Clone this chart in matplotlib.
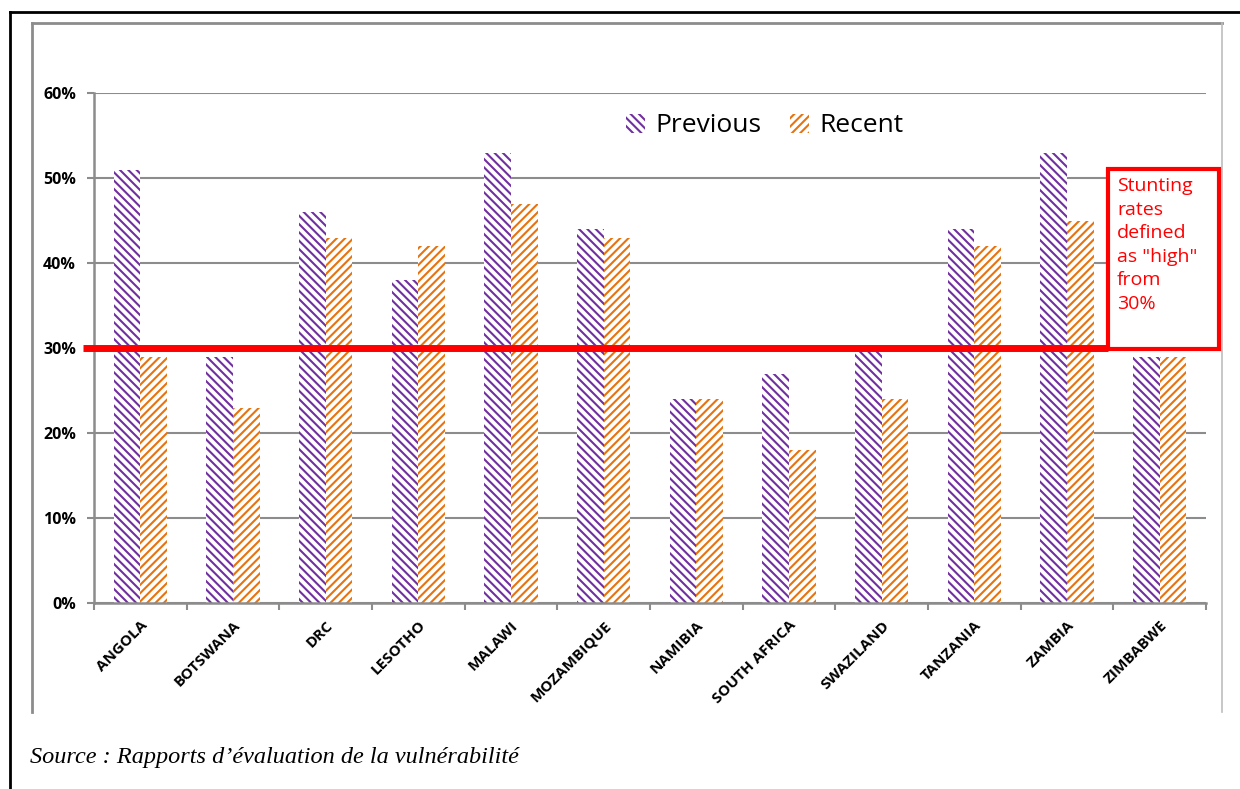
import numpy as np
import matplotlib
matplotlib.use("Agg")
import matplotlib.pyplot as plt
from matplotlib.patches import Rectangle
from matplotlib.lines import Line2D

countries = ["ANGOLA", "BOTSWANA", "DRC", "LESOTHO", "MALAWI", "MOZAMBIQUE",
             "NAMIBIA", "SOUTH AFRICA", "SWAZILAND", "TANZANIA", "ZAMBIA", "ZIMBABWE"]
previous = [0.51, 0.29, 0.46, 0.38, 0.53, 0.44, 0.24, 0.27, 0.30, 0.44, 0.53, 0.29]
recent = [0.29, 0.23, 0.43, 0.42, 0.47, 0.43, 0.24, 0.18, 0.24, 0.42, 0.45, 0.29]
threshold = 0.30
yticks = [0.0, 0.1, 0.2, 0.3, 0.4, 0.5, 0.6]

purple = "#7030A0"
orange = "#E8730E"
grid_gray = "#8C8C8C"

plt.rcParams["font.family"] = ["Open Sans", "DejaVu Sans"]
plt.rcParams["hatch.linewidth"] = 1.5

W, H = 1240, 789
fig = plt.figure(figsize=(W / 100, H / 100), dpi=100)

def fx(px):
    return px / W

def fy(py):
    return 1 - py / H

ax = fig.add_axes([fx(94), fy(603), fx(1206) - fx(94), fy(93) - fy(603)])

x = np.arange(len(countries))
bw = 0.288
ax.bar(x - bw / 2, previous, bw, facecolor="white", edgecolor=purple,
       hatch="\\\\\\\\", linewidth=0, label="Previous", zorder=2)
ax.bar(x + bw / 2, recent, bw, facecolor="white", edgecolor=orange,
       hatch="////", linewidth=0, label="Recent", zorder=2)

ax.set_xlim(-0.5, len(countries) - 0.5)
ax.set_ylim(0, 0.6)
ax.set_yticks(yticks)
ax.set_yticklabels([f"{int(round(v * 100))}%" for v in yticks],
                   fontsize=11.5, fontweight="bold")
ax.yaxis.grid(True, color=grid_gray, linewidth=1.5, zorder=0)
ax.set_axisbelow(True)

ax.set_xticks(x)
ax.set_xticklabels(countries, rotation=45, ha="right", rotation_mode="anchor",
                   fontsize=11, fontweight="bold")
ax.tick_params(axis="x", which="major", length=0, pad=11)
ax.set_xticks(np.arange(len(countries) + 1) - 0.5, minor=True)
ax.tick_params(axis="x", which="minor", length=5, width=1.5, color=grid_gray)
ax.tick_params(axis="y", length=5, width=1.5, color=grid_gray, pad=8)

for s in ["top", "right"]:
    ax.spines[s].set_visible(False)
for s in ["left", "bottom"]:
    ax.spines[s].set_color(grid_gray)
    ax.spines[s].set_linewidth(1.8)

# red threshold line and annotation box
trans = ax.get_yaxis_transform()
ax.plot([(83 - 94) / 1112, (1108 - 94) / 1112], [threshold, threshold],
        color="red", linewidth=5, transform=trans, clip_on=False, zorder=4,
        solid_capstyle="butt")

box = Rectangle((fx(1108), fy(349)), fx(1219) - fx(1108), fy(169) - fy(349),
                transform=fig.transFigure, facecolor="white", edgecolor="red",
                linewidth=3, zorder=5)
fig.patches.append(box)
fig.text(fx(1117), fy(177), 'Stunting\nrates\ndefined\nas "high"\nfrom\n30%',
         color="red", fontsize=14, va="top", ha="left", linespacing=1.4,
         zorder=6)

ax.legend(loc="center", bbox_to_anchor=(fx(765), fy(126)),
          bbox_transform=fig.transFigure, ncol=2, frameon=False, fontsize=19,
          handlelength=0.7, handleheight=0.7, columnspacing=1.1,
          handletextpad=0.4)

# frames around the figure
fig.add_artist(Line2D([fx(10), fx(10)], [fy(12), 0], color="black", linewidth=2))
fig.add_artist(Line2D([fx(10), 1], [fy(12), fy(12)], color="black", linewidth=2))
fig.add_artist(Line2D([fx(32), fx(32)], [fy(23), fy(712)], color=grid_gray, linewidth=2))
fig.add_artist(Line2D([fx(32), fx(1222)], [fy(23), fy(23)], color=grid_gray, linewidth=2))
fig.add_artist(Line2D([fx(1222), fx(1222)], [fy(23), fy(712)], color="#BDBDBD", linewidth=1.2))

fig.text(fx(30), fy(757), "Source : Rapports d\u2019\u00e9valuation de la vuln\u00e9rabilit\u00e9",
         fontsize=17.5, style="italic", family=["Liberation Serif", "DejaVu Serif"],
         va="center", ha="left")

fig.savefig("out.png", dpi=100)
